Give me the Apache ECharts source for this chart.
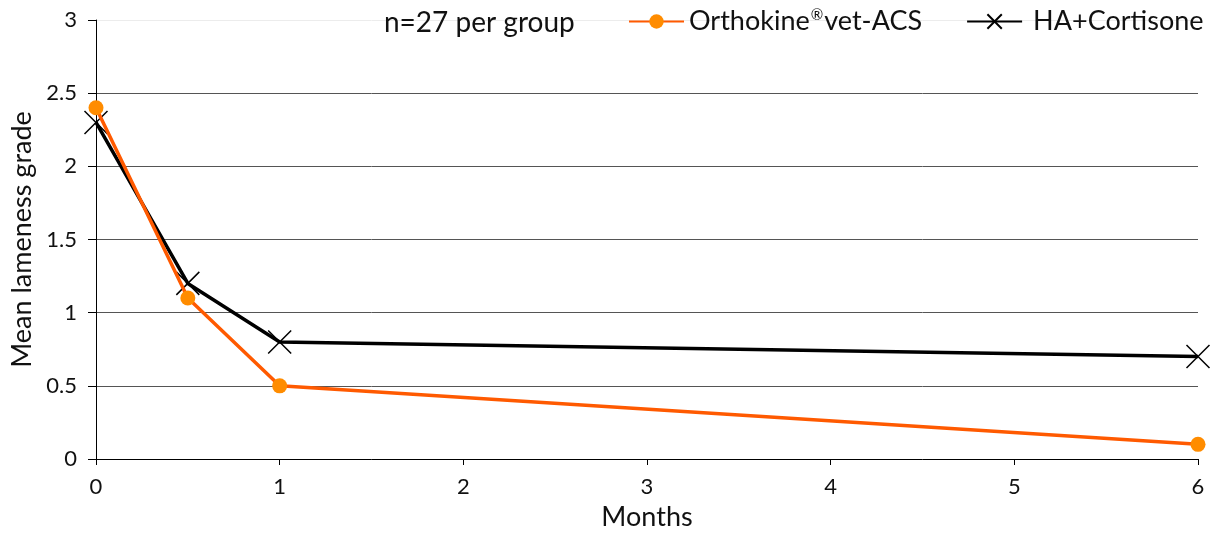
<!DOCTYPE html>
<html>
<head>
<meta charset="utf-8">
<script src="https://cdn.jsdelivr.net/npm/echarts@6/dist/echarts.min.js"></script>
<style>
  html, body { margin: 0; padding: 0; background: #fff; }
  #chart { width: 1216px; height: 533px; }
</style>
</head>
<body>
<div id="chart"></div>
<script>
// values
const months = [0, 0.5, 1, 6];
const orthokine = [2.4, 1.1, 0.5, 0.1];
const haCortisone = [2.3, 1.2, 0.8, 0.7];
const seriesNames = ['Orthokine®vet-ACS', 'HA+Cortisone'];
const noteText = 'n=27 per group';
const gridValues = [0.5, 1, 1.5, 2, 2.5];
const yTop = 3;

const FONT = 'Lato, "Noto Sans", sans-serif';
const CROSS = 'path://M0,0L10,10M10,0L0,10';

const chart = echarts.init(document.getElementById('chart'));

const pairs = (xs, ys) => xs.map((x, i) => [x, ys[i]]);

// superscript the ® like the original
const legendLabel = name => {
    const i = name.indexOf('®');
    if (i < 0) return '{b|' + name + '}';
    return '{a|' + name.slice(0, i) + '}{sup|®}{a|' + name.slice(i + 1) + '}';
};

chart.setOption({
    animation: false,
    grid: { left: 96, right: 18, top: 20, bottom: 74, outerBoundsMode: 'none' },
    graphic: [{
        type: 'text', left: 384, top: 9, z: 100,
        style: { text: noteText, fontFamily: FONT, fontSize: 28, fill: '#111' }
    }],
    legend: {
        left: 628, top: 8, padding: 0, z: 100,
        itemWidth: 55, itemHeight: 18, itemGap: 44,
        formatter: legendLabel,
        textStyle: {
            fontFamily: FONT, fontSize: 27, color: '#111',
            rich: {
                a: { fontFamily: FONT, fontSize: 27, color: '#111' },
                b: { fontFamily: FONT, fontSize: 27, color: '#111', padding: [0, 0, 0, 6] },
                sup: { fontFamily: FONT, fontSize: 15, color: '#111', verticalAlign: 'top', padding: [0, 1, 10, 1] }
            }
        },
        data: seriesNames
    },
    xAxis: {
        type: 'value', min: 0, max: 6, interval: 1,
        name: 'Months', nameLocation: 'middle', nameGap: 45,
        nameTextStyle: { fontFamily: FONT, fontSize: 27, color: '#111' },
        axisLine: { show: true, lineStyle: { color: '#000', width: 1 } },
        axisTick: { show: true, length: 6, lineStyle: { color: '#000' } },
        axisLabel: { fontFamily: FONT, fontSize: 22, color: '#111', margin: 17 },
        splitLine: { show: false }
    },
    yAxis: [
        {
            type: 'value', min: 0, max: yTop, interval: 0.5,
            name: 'Mean lameness grade', nameLocation: 'middle', nameGap: 60,
            nameTextStyle: { fontFamily: FONT, fontSize: 27, color: '#111' },
            axisLine: { show: true, lineStyle: { color: '#000', width: 1 } },
            axisTick: { show: true, length: 8, lineStyle: { color: '#000' } },
            axisLabel: { fontFamily: FONT, fontSize: 22, color: '#111', margin: 19 },
            splitLine: { show: false }
        },
        {
            // hidden helper axis: only its pale top gridline shows
            type: 'value', min: 0, max: yTop, interval: yTop, position: 'left',
            axisLine: { show: false }, axisTick: { show: false }, axisLabel: { show: false },
            splitLine: { show: true, lineStyle: { color: '#ececec', width: 1 } }
        }
    ],
    series: [
        {
            name: seriesNames[0], type: 'line',
            data: pairs(months, orthokine),
            symbol: 'circle', symbolSize: 15,
            lineStyle: { color: '#ff5a00', width: 3.5 },
            itemStyle: { color: '#ff8c00' },
            markLine: {
                silent: true, symbol: 'none', label: { show: false },
                emphasis: { disabled: true },
                lineStyle: { color: '#555', width: 1, type: 'solid' },
                data: gridValues.map(v => ({ yAxis: v })),
                z: 0
            },
            z: 3
        },
        {
            name: seriesNames[1], type: 'line',
            data: pairs(months, haCortisone),
            symbol: CROSS, symbolSize: 23,
            lineStyle: { color: '#000', width: 3.5 },
            itemStyle: { color: 'none', borderColor: '#000', borderWidth: 1.5 },
            z: 2
        }
    ]
});
</script>
</body>
</html>
